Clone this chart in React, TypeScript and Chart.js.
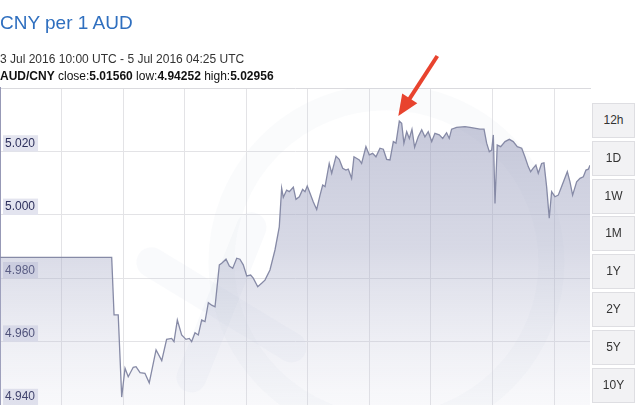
import React, { useEffect, useRef } from "react";
import { Chart, registerables } from "chart.js";

Chart.register(...registerables);

// ---- data ----
const titleText = "CNY per 1 AUD";
const rangeText = "3 Jul 2016 10:00 UTC - 5 Jul 2016 04:25 UTC";
const pairLabel = "AUD/CNY";
const closeLabel = "5.01560";
const lowLabel = "4.94252";
const highLabel = "5.02956";

// hours since 3 Jul 2016 10:00 UTC
const hours = [
  0, 8.03, 8.2, 8.5, 8.75, 8.99, 9.22, 9.58, 9.78, 10.07, 10.42, 10.73, 11.22, 11.63, 11.98, 12.34, 12.51, 12.75,
  13.06, 13.37, 13.61, 13.78, 14.02, 14.26, 14.38, 14.5, 14.74, 14.98, 15.22, 15.46, 15.77, 15.94, 16.25, 16.49,
  16.73, 17.02, 17.25, 17.49, 17.74, 18.02, 18.21, 18.53, 18.81, 19.05, 19.41, 19.77, 20.08, 20.25, 20.37, 20.61,
  20.8, 21.09, 21.28, 21.52, 21.76, 21.93, 22.09, 22.29, 22.52, 22.77, 23.01, 23.2, 23.37, 23.67, 23.85, 24.16,
  24.39, 24.64, 24.87, 25.04, 25.28, 25.45, 25.83, 26.0, 26.31, 26.55, 26.79, 27.03, 27.32, 27.56, 27.8, 28.04,
  28.28, 28.47, 28.71, 28.88, 29.04, 29.24, 29.43, 29.62, 29.81, 30.07, 30.32, 30.55, 30.79, 31.04, 31.27, 31.58,
  31.83, 32.11, 32.3, 32.47, 32.83, 33.43, 33.79, 34.51, 34.8, 34.99, 35.18, 35.35, 35.47, 35.59, 35.75, 36.0,
  36.31, 36.62, 36.9, 37.19, 37.51, 37.74, 37.98, 38.15, 38.34, 38.53, 38.7, 38.94, 39.11, 39.3, 39.49, 39.66,
  39.9, 40.14, 40.38, 40.79, 40.98, 41.17, 41.46, 41.7, 41.94, 42.13, 42.3, 42.42,
];

const rates = [
  4.9866, 4.9866, 4.9684, 4.9684, 4.9425, 4.9516, 4.9489, 4.9519, 4.9521, 4.9502, 4.95, 4.947, 4.9574, 4.954,
  4.9607, 4.961, 4.96, 4.9668, 4.9621, 4.9607, 4.961, 4.96, 4.9628, 4.9621, 4.9645, 4.9668, 4.9663, 4.9723,
  4.9715, 4.971, 4.9842, 4.9847, 4.986, 4.9838, 4.9831, 4.9863, 4.986, 4.9842, 4.9807, 4.981, 4.98, 4.9773,
  4.9784, 4.9794, 4.9826, 4.9889, 4.9962, 5.0084, 5.0055, 5.0078, 5.0073, 5.0087, 5.0049, 5.0057, 5.008, 5.0073,
  5.0091, 5.0068, 5.0041, 5.0017, 5.0062, 5.0094, 5.0089, 5.0162, 5.0131, 5.0185, 5.0175, 5.0147, 5.0141, 5.0144,
  5.0115, 5.0183, 5.0173, 5.0162, 5.0215, 5.0189, 5.0194, 5.0183, 5.021, 5.0207, 5.0175, 5.0173, 5.0231, 5.0226,
  5.0296, 5.0289, 5.0226, 5.0262, 5.0241, 5.027, 5.0213, 5.0246, 5.0268, 5.0246, 5.0262, 5.0231, 5.0257, 5.0252,
  5.0241, 5.0259, 5.0241, 5.027, 5.0276, 5.0278, 5.0276, 5.027, 5.027, 5.0226, 5.0199, 5.0204, 5.0252, 5.0036,
  5.022, 5.0215, 5.0231, 5.0238, 5.0231, 5.0215, 5.021, 5.0183, 5.0152, 5.0136, 5.0147, 5.0157, 5.0131, 5.0162,
  5.0164, 5.0089, 4.9989, 5.0073, 5.0057, 5.0062, 5.0089, 5.0136, 5.0104, 5.0062, 5.0104, 5.0115, 5.012, 5.0141,
  5.0144, 5.0156,
];

const yTickValues = [4.94, 4.96, 4.98, 5.0, 5.02];
const yMin = 4.94;
const yMax = 5.04;
const xEnd = 42.42;
const rangeButtons = ["12h", "1D", "1W", "1M", "1Y", "2Y", "5Y", "10Y"];

const FONT = "'Liberation Sans', Arial, Helvetica, sans-serif";
const GRID_STEP = 4.426;

const arrowPlugin = {
  id: "peakArrow",
  afterDraw(chart: any) {
    const meta = chart.getDatasetMeta(0);
    let idx = 0;
    for (let i = 1; i < rates.length; i++) if (rates[i] > rates[idx]) idx = i;
    const pt = meta.data[idx];
    if (!pt) return;
    const ctx = chart.ctx;
    const tipX = pt.x - 1;
    const tipY = pt.y - 5;
    const tailX = tipX + 39;
    const tailY = tipY - 60;
    const dx = tipX - tailX;
    const dy = tipY - tailY;
    const len = Math.hypot(dx, dy);
    const ux = dx / len;
    const uy = dy / len;
    const px = -uy;
    const py = ux;
    const headLen = 21;
    const headHalf = 9;
    const bx = tipX - ux * headLen;
    const by = tipY - uy * headLen;
    ctx.save();
    ctx.strokeStyle = "#e8432e";
    ctx.fillStyle = "#e8432e";
    ctx.lineWidth = 4;
    ctx.lineCap = "butt";
    ctx.beginPath();
    ctx.moveTo(tailX, tailY);
    ctx.lineTo(bx + ux * 2, by + uy * 2);
    ctx.stroke();
    ctx.beginPath();
    ctx.moveTo(tipX, tipY);
    ctx.lineTo(bx + px * headHalf, by + py * headHalf);
    ctx.lineTo(bx - px * headHalf, by - py * headHalf);
    ctx.closePath();
    ctx.fill();
    ctx.restore();
  },
};

// very faint "xe" style watermark behind the data
const watermarkPlugin = {
  id: "watermark",
  beforeDatasetsDraw(chart: any) {
    const { ctx, chartArea } = chart;
    if (!chartArea) return;
    const cx = chartArea.left + (chartArea.right - chartArea.left) * 0.655;
    const cy = chartArea.top + (chartArea.bottom - chartArea.top) * 0.55;
    ctx.save();
    ctx.beginPath();
    ctx.rect(chartArea.left, chartArea.top, chartArea.right - chartArea.left, chartArea.bottom - chartArea.top);
    ctx.clip();
    ctx.strokeStyle = "rgba(205,207,225,0.09)";
    ctx.lineWidth = 26;
    ctx.beginPath();
    ctx.arc(cx, cy, 165, 0, Math.PI * 2);
    ctx.stroke();
    ctx.lineCap = "round";
    ctx.lineWidth = 30;
    ctx.strokeStyle = "rgba(200,202,222,0.1)";
    ctx.beginPath();
    ctx.moveTo(cx - 235, cy + 0);
    ctx.lineTo(cx - 95, cy + 85);
    ctx.stroke();
    ctx.beginPath();
    ctx.moveTo(cx - 195, cy + 115);
    ctx.lineTo(cx - 135, cy - 35);
    ctx.stroke();
    ctx.restore();
  },
};

function RateChart() {
  const ref = useRef<HTMLCanvasElement | null>(null);
  useEffect(() => {
    if (!ref.current) return;
    const points = hours.map((h, i) => ({ x: h, y: rates[i] }));
    const chart = new Chart(ref.current, {
      type: "line",
      data: {
        datasets: [
          {
            data: points,
            borderColor: "#868aa6",
            borderWidth: 1.3,
            pointRadius: 0,
            tension: 0,
            fill: "start",
            backgroundColor: (context: any) => {
              const { chart } = context;
              const { ctx, chartArea } = chart;
              if (!chartArea) return "rgba(180,184,206,0.5)";
              const g = ctx.createLinearGradient(0, chartArea.top, 0, chartArea.bottom);
              g.addColorStop(0, "rgba(150,154,186,0.58)");
              g.addColorStop(0.5, "rgba(160,164,194,0.42)");
              g.addColorStop(1, "rgba(200,202,222,0.12)");
              return g;
            },
          },
        ],
      },
      options: {
        animation: false,
        responsive: false,
        maintainAspectRatio: false,
        layout: { autoPadding: false, padding: { top: 88, left: 0, right: 50, bottom: 0 } },
        plugins: { legend: { display: false }, tooltip: { enabled: false }, title: { display: false } },
        scales: {
          x: {
            type: "linear",
            position: "top",
            min: 0,
            max: xEnd,
            afterBuildTicks: (scale: any) => {
              const t = [];
              for (let v = 0; v < xEnd; v += GRID_STEP) t.push({ value: v });
              scale.ticks = t;
            },
            afterFit: (scale: any) => {
              scale.height = 0;
              scale.paddingLeft = 0;
              scale.paddingRight = 0;
            },
            ticks: { display: false },
            grid: { color: "#e3e3e6", drawTicks: false, lineWidth: 1 },
            border: { display: true, color: "#dadade", width: 1 },
          },
          y: {
            type: "linear",
            min: yMin,
            max: yMax,
            afterBuildTicks: (scale: any) => {
              scale.ticks = yTickValues.map((v) => ({ value: v }));
            },
            afterFit: (scale: any) => {
              scale.width = 0;
              scale.paddingTop = 0;
              scale.paddingBottom = 0;
            },
            ticks: {
              mirror: true,
              padding: 5,
              labelOffset: -8,
              color: "#2c2f5c",
              font: { size: 12, family: FONT },
              showLabelBackdrop: true,
              backdropColor: "rgba(226,227,238,0.95)",
              backdropPadding: { top: 1, bottom: 1, left: 2, right: 3 },
              callback: (v: any) => Number(v).toFixed(3),
            },
            grid: { color: "#e3e3e6", drawTicks: false, lineWidth: 1 },
            border: { display: true, color: "#9799b6", width: 2 },
          },
        },
      },
      plugins: [watermarkPlugin, arrowPlugin],
    } as any);
    return () => chart.destroy();
  }, []);
  return (
    <canvas
      ref={ref}
      width={640}
      height={405}
      style={{ position: "absolute", left: 0, top: 0, width: 640, height: 405 }}
    />
  );
}

export default function App() {
  return (
    <div
      style={{
        position: "fixed",
        left: 0,
        top: 0,
        width: 640,
        height: 405,
        overflow: "hidden",
        background: "#fff",
        fontFamily: FONT,
      }}
    >
      <RateChart />
      <div
        style={{
          position: "absolute",
          left: 0,
          top: 13,
          fontSize: 19,
          lineHeight: "19px",
          color: "#2f6fbf",
          whiteSpace: "nowrap",
        }}
      >
        {titleText}
      </div>
      <div
        style={{
          position: "absolute",
          left: 0,
          top: 53,
          fontSize: 12,
          lineHeight: "12px",
          color: "#333",
          whiteSpace: "nowrap",
        }}
      >
        {rangeText}
      </div>
      <div
        style={{
          position: "absolute",
          left: 0,
          top: 70,
          fontSize: 12,
          lineHeight: "12px",
          color: "#111",
          whiteSpace: "nowrap",
        }}
      >
        <b>{pairLabel}</b> close:<b>{closeLabel}</b> low:<b>{lowLabel}</b> high:<b>{highLabel}</b>
      </div>
      {rangeButtons.map((b, i) => (
        <div
          key={b}
          style={{
            position: "absolute",
            left: 592,
            top: 103 + i * 37.8,
            width: 43,
            height: 35,
            boxSizing: "border-box",
            border: "1px solid #dedee2",
            background: "#f2f2f4",
            color: "#333",
            fontSize: 12,
            lineHeight: "33px",
            textAlign: "center",
          }}
        >
          {b}
        </div>
      ))}
    </div>
  );
}
